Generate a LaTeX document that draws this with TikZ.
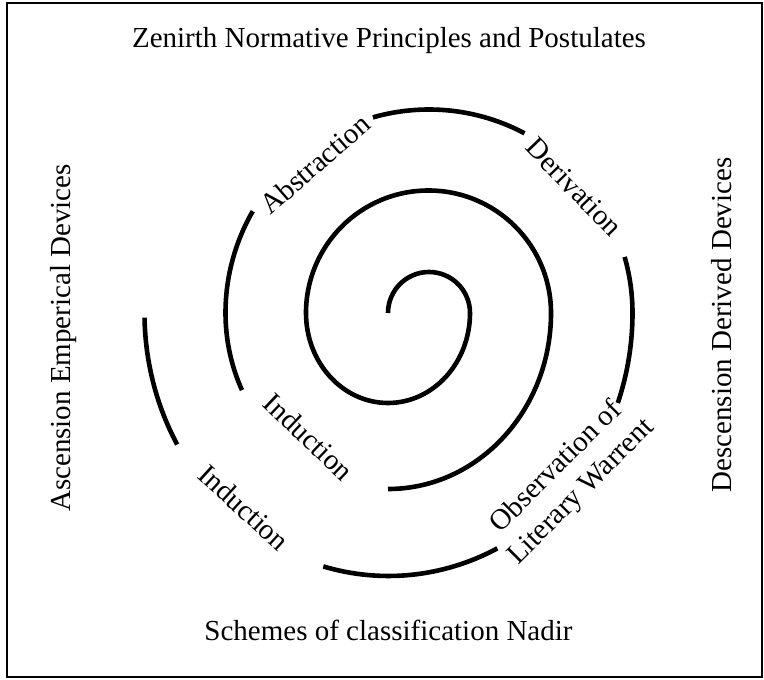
\documentclass[tikz,border=0pt]{standalone}
\usepackage{fontspec}
\setmainfont{Liberation Serif}
\usepackage{tikz}

\begin{document}
\begin{tikzpicture}[x=0.5pt, y=0.5pt,
    every node/.style={font=\fontsize{14.5}{17.5}\selectfont},
    spiral/.style={line width=2.3pt}]
  \useasboundingbox (0,0) rectangle (764,679);
  % Marco
  \draw[line width=1pt] (7,2) rectangle (762,676);
  % Centros de la espiral (mitades superior e inferior)
  \coordinate (ca) at (429,366);
  \coordinate (cb) at (388.5,366);
  % Espiral: tramo interior continuo
  \draw[spiral] (388,366) arc[start angle=180, end angle=0, radius=41]
    arc[start angle=0, end angle=-180, x radius=82, y radius=90]
    arc[start angle=180, end angle=0, radius=122.5]
    arc[start angle=0, end angle=-90, x radius=163, y radius=176];
  % Espiral: tramos exteriores entre las etiquetas
  \draw[spiral] ([shift={(-154:163 and 176)}]cb)
    arc[start angle=-154, end angle=-180, x radius=163, y radius=176]
    arc[start angle=180, end angle=150, radius=203.5];
  \draw[spiral] ([shift={(106:203.5)}]ca) arc[start angle=106, end angle=62, radius=203.5];
  \draw[spiral] ([shift={(16:203.5)}]ca) arc[start angle=16, end angle=0, radius=203.5]
    arc[start angle=0, end angle=-20, x radius=244, y radius=263];
  \draw[spiral] ([shift={(-63.5:244 and 263)}]cb)
    arc[start angle=-63.5, end angle=-105.5, x radius=244, y radius=263];
  \draw[spiral] ([shift={(-150:244 and 263)}]cb)
    arc[start angle=-150, end angle=-179, x radius=244, y radius=263];
  % Etiquetas de la espiral
  \node[rotate=41] (abstraction) at (315,515) {Abstraction};
  \node[rotate=-46] (derivation) at (574,492) {Derivation};
  \node[rotate=-43.5] (inductionin) at (309,242) {Induction};
  \node[rotate=-42.3] (inductionout) at (244,171.5) {Induction};
  \node[rotate=45, align=center] (observation) at (569,199) {Observation of\\Literary Warrent};
  % Textos de los bordes
  \node[anchor=base] (zenith) at (389,631) {Zenirth Normative Principles and Postulates};
  \node[anchor=base] (nadir) at (388.5,39) {Schemes of classification Nadir};
  \node[rotate=90, anchor=base] (ascension) at (70,341) {Ascension Emperical Devices};
  \node[rotate=90, anchor=base] (descension) at (731,354) {Descension Derived Devices};
\end{tikzpicture}
\end{document}
